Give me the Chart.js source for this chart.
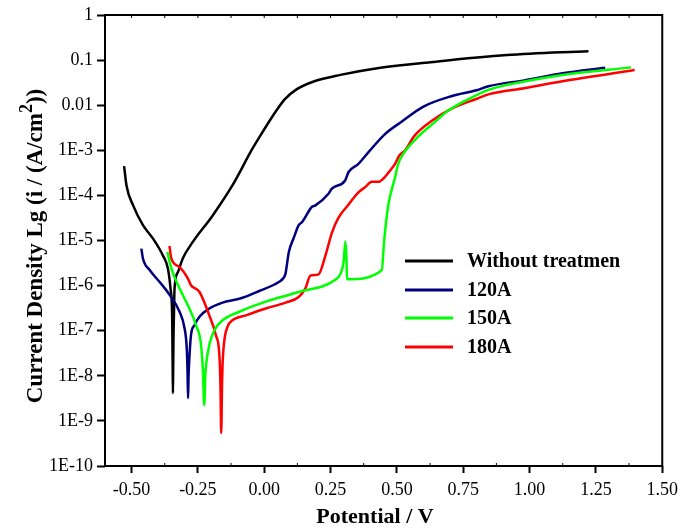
<!DOCTYPE html>
<html>
<head>
<meta charset="utf-8">
<script src="https://cdn.jsdelivr.net/npm/chart.js@4/dist/chart.umd.min.js"></script>
<style>
  html, body { margin: 0; padding: 0; background: #ffffff; }
  #wrap { width: 684px; height: 530px; }
</style>
</head>
<body>
<div id="wrap"><canvas id="c" width="684" height="530"></canvas></div>
<script>
// ---- data (potential in V, current density in A/cm^2) ----
const seriesNames = ['Without treatmen', '120A', '150A', '180A'];
const seriesColors = ['#000000', '#00007f', '#00ff00', '#ff0000'];

const untreatedV = [-0.528, -0.519, -0.494, -0.457, -0.419, -0.382, -0.363, -0.353, -0.347, -0.346, -0.345, -0.344, -0.343, -0.342, -0.340, -0.338, -0.325, -0.307, -0.269, -0.194, -0.120, -0.045, -0.007, 0.049, 0.077, 0.119, 0.189, 0.287, 0.426, 0.636, 0.915, 1.222];
const untreatedI = [4.47e-4, 1.66e-4, 6.0e-5, 2.19e-5, 1.10e-5, 4.68e-6, 2.40e-6, 8.5e-7, 2.19e-7, 6.3e-8, 1.58e-8, 4.1e-9, 1.58e-8, 6.3e-8, 2.5e-7, 8.5e-7, 2.0e-6, 4.0e-6, 9.3e-6, 3.6e-5, 1.66e-4, 1.07e-3, 2.5e-3, 8.1e-3, 1.35e-2, 2.19e-2, 3.4e-2, 4.7e-2, 6.6e-2, 9.1e-2, 0.129, 0.158];

const a120V = [-0.463, -0.457, -0.431, -0.394, -0.356, -0.319, -0.300, -0.292, -0.289, -0.287, -0.285, -0.282, -0.276, -0.263, -0.244, -0.207, -0.157, -0.094, -0.019, 0.055, 0.074, 0.080, 0.093, 0.112, 0.130, 0.143, 0.180, 0.193, 0.243, 0.255, 0.305, 0.318, 0.355, 0.393, 0.455, 0.520, 0.600, 0.705, 0.800, 0.845, 0.984, 1.124, 1.285];
const a120I = [6.6e-6, 4.0e-6, 2.19e-6, 1.20e-6, 6.2e-7, 2.63e-7, 1.12e-7, 4.1e-8, 1.26e-8, 3.2e-9, 1.0e-8, 2.5e-8, 7.9e-8, 1.32e-7, 2.04e-7, 3.1e-7, 4.2e-7, 5.1e-7, 7.6e-7, 1.20e-6, 1.51e-6, 1.82e-6, 5.6e-6, 1.17e-5, 2.19e-5, 2.57e-5, 5.6e-5, 6.0e-5, 1.10e-4, 1.41e-4, 2.14e-4, 3.3e-4, 5.0e-4, 9.1e-4, 2.29e-3, 4.4e-3, 9.3e-3, 1.58e-2, 2.14e-2, 2.63e-2, 3.6e-2, 5.1e-2, 6.8e-2];

const a150V = [-0.365, -0.350, -0.319, -0.282, -0.257, -0.238, -0.231, -0.226, -0.222, -0.219, -0.207, -0.188, -0.157, -0.094, 0.006, 0.130, 0.268, 0.287, 0.299, 0.306, 0.310, 0.312, 0.443, 0.452, 0.468, 0.493, 0.505, 0.524, 0.580, 0.638, 0.691, 0.775, 0.845, 0.984, 1.124, 1.382];
const a150I = [5.6e-6, 2.40e-6, 8.7e-7, 3.1e-7, 1.32e-7, 4.8e-8, 1.26e-8, 2.24e-9, 1.0e-8, 1.74e-8, 4.8e-8, 1.02e-7, 1.70e-7, 2.63e-7, 4.4e-7, 7.2e-7, 1.35e-6, 1.82e-6, 3.3e-6, 9.5e-6, 4.0e-6, 1.38e-6, 2.19e-6, 1.0e-5, 6.3e-5, 2.5e-4, 5.0e-4, 8.3e-4, 2.0e-3, 4.0e-3, 7.4e-3, 1.41e-2, 2.19e-2, 3.4e-2, 4.7e-2, 6.9e-2];

const a180V = [-0.357, -0.350, -0.319, -0.288, -0.276, -0.244, -0.207, -0.182, -0.169, -0.165, -0.162, -0.159, -0.157, -0.151, -0.138, -0.120, -0.069, 0.006, 0.081, 0.130, 0.155, 0.174, 0.205, 0.230, 0.255, 0.280, 0.318, 0.330, 0.355, 0.380, 0.405, 0.430, 0.455, 0.470, 0.493, 0.510, 0.531, 0.566, 0.636, 0.705, 0.804, 0.845, 0.984, 1.124, 1.396];
const a180I = [7.6e-6, 4.0e-6, 2.57e-6, 1.45e-6, 1.02e-6, 7.2e-7, 2.19e-7, 7.9e-8, 2.88e-8, 6.3e-9, 5.4e-10, 6.3e-9, 1.74e-8, 5.6e-8, 1.23e-7, 1.70e-7, 2.19e-7, 3.1e-7, 4.2e-7, 5.6e-7, 8.7e-7, 1.66e-6, 1.78e-6, 4.5e-6, 1.48e-5, 3.2e-5, 6.3e-5, 7.8e-5, 1.17e-4, 1.51e-4, 2.0e-4, 2.0e-4, 2.57e-4, 3.3e-4, 5.0e-4, 7.8e-4, 1.0e-3, 2.09e-3, 4.7e-3, 8.3e-3, 1.41e-2, 1.74e-2, 2.4e-2, 3.4e-2, 6.0e-2];

const xTickValues = [-0.5, -0.25, 0, 0.25, 0.5, 0.75, 1.0, 1.25, 1.5];
const xTickLabels = ['-0.50', '-0.25', '0.00', '0.25', '0.50', '0.75', '1.00', '1.25', '1.50'];
const yTickValues = [1e-10, 1e-9, 1e-8, 1e-7, 1e-6, 1e-5, 1e-4, 1e-3, 1e-2, 1e-1, 1];
const yTickLabels = ['1E-10', '1E-9', '1E-8', '1E-7', '1E-6', '1E-5', '1E-4', '1E-3', '0.01', '0.1', '1'];

const xTitle = 'Potential / V';
const yTitleParts = ['Current Density Lg (i / (A/cm', '2', '))'];

// ---- build ----
const seriesV = [untreatedV, a120V, a150V, a180V];
const seriesI = [untreatedI, a120I, a150I, a180I];
const drawOrder = [3, 2, 0, 1];

const datasets = seriesNames.map((name, k) => ({
  label: name,
  data: seriesV[k].map((v, i) => ({ x: v, y: seriesI[k][i] })),
  borderColor: seriesColors[k],
  backgroundColor: seriesColors[k],
  borderWidth: 2.5,
  pointRadius: 0,
  showLine: true,
  cubicInterpolationMode: 'monotone',
  order: drawOrder[k]
}));

const FONT = '"Liberation Serif", "Times New Roman", serif';

const decorPlugin = {
  id: 'decor',
  afterDraw(chart) {
    const { ctx, chartArea: a, scales } = chart;
    ctx.save();
    // frame
    ctx.strokeStyle = '#000';
    ctx.lineWidth = 2;
    ctx.strokeRect(a.left, a.top, a.right - a.left, a.bottom - a.top);
    // small inward minor ticks
    ctx.lineWidth = 1;
    for (let i = 0; i < xTickValues.length; i++) {
      const px = scales.x.getPixelForValue(xTickValues[i]);
      ctx.beginPath(); ctx.moveTo(px, a.top); ctx.lineTo(px, a.top + 3); ctx.stroke();
      if (i < xTickValues.length - 1) {
        const mid = scales.x.getPixelForValue((xTickValues[i] + xTickValues[i + 1]) / 2);
        ctx.beginPath(); ctx.moveTo(mid, a.bottom); ctx.lineTo(mid, a.bottom - 3); ctx.stroke();
        ctx.beginPath(); ctx.moveTo(mid, a.top); ctx.lineTo(mid, a.top + 3); ctx.stroke();
      }
    }
    // x title
    ctx.fillStyle = '#000';
    ctx.font = 'bold 22px ' + FONT;
    ctx.textAlign = 'center';
    ctx.textBaseline = 'middle';
    ctx.fillText(xTitle, 375, 517);
    // y title with superscript
    ctx.translate(36, 246);
    ctx.rotate(-Math.PI / 2);
    const fMain = 'bold 23px ' + FONT, fSup = 'bold 18px ' + FONT;
    ctx.font = fMain; const w0 = ctx.measureText(yTitleParts[0]).width;
    const w2 = ctx.measureText(yTitleParts[2]).width;
    ctx.font = fSup; const w1 = ctx.measureText(yTitleParts[1]).width;
    let sx = -(w0 + w1 + w2) / 2;
    ctx.textAlign = 'left';
    ctx.font = fMain; ctx.fillText(yTitleParts[0], sx, 0); sx += w0;
    ctx.font = fSup; ctx.fillText(yTitleParts[1], sx, -9); sx += w1;
    ctx.font = fMain; ctx.fillText(yTitleParts[2], sx, 0);
    ctx.setTransform(1, 0, 0, 1, 0, 0);
    // legend
    ctx.font = 'bold 20px ' + FONT;
    ctx.textAlign = 'left';
    ctx.textBaseline = 'middle';
    const rows = [261, 290, 318, 347];
    for (let k = 0; k < seriesNames.length; k++) {
      ctx.strokeStyle = seriesColors[k];
      ctx.lineWidth = 3;
      ctx.beginPath(); ctx.moveTo(405, rows[k]); ctx.lineTo(453, rows[k]); ctx.stroke();
      ctx.fillStyle = '#000';
      ctx.fillText(seriesNames[k], 467, rows[k] + 1);
    }
    ctx.restore();
  }
};

new Chart(document.getElementById('c'), {
  type: 'scatter',
  data: { datasets },
  options: {
    responsive: false,
    animation: false,
    layout: { padding: { top: 15, right: 17, left: 0, bottom: 0 } },
    plugins: { legend: { display: false }, tooltip: { enabled: false } },
    scales: {
      x: {
        type: 'linear',
        min: -0.6, max: 1.5,
        afterBuildTicks: s => { s.ticks = xTickValues.map(v => ({ value: v })); },
        afterFit: s => { s.height = 64; },
        ticks: {
          color: '#000', font: { family: FONT, size: 18 }, padding: 6,
          maxRotation: 0, autoSkip: false,
          callback: (v, i) => xTickLabels[i]
        },
        grid: { display: true, drawOnChartArea: false, drawTicks: true, tickLength: 7, tickWidth: 2, tickColor: '#000', color: '#000' },
        border: { display: false }
      },
      y: {
        type: 'logarithmic',
        min: 1e-10, max: 1,
        afterBuildTicks: s => { s.ticks = yTickValues.map(v => ({ value: v })); },
        afterFit: s => { s.width = 105; },
        ticks: {
          color: '#000', font: { family: FONT, size: 18 }, padding: 4,
          autoSkip: false,
          callback: (v, i) => yTickLabels[i]
        },
        grid: { display: true, drawOnChartArea: false, drawTicks: true, tickLength: 8, tickWidth: 2, tickColor: '#000', color: '#000' },
        border: { display: false }
      }
    }
  },
  plugins: [decorPlugin]
});
</script>
</body>
</html>
